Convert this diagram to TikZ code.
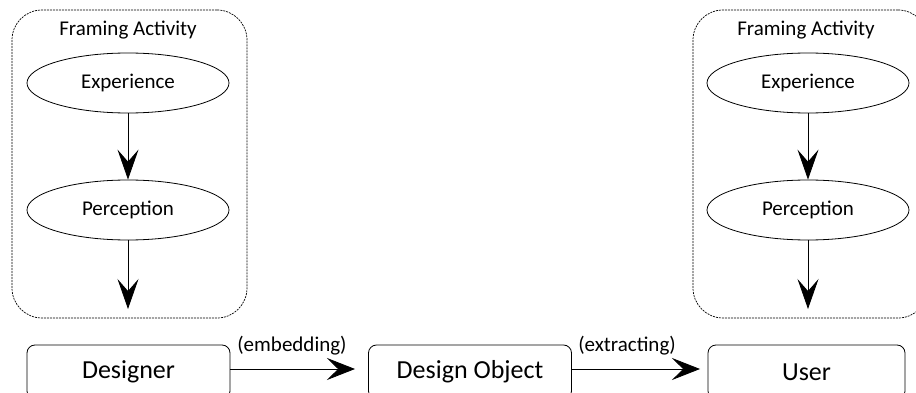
\documentclass[tikz,border=0pt]{standalone}
\usepackage{fontspec}
\setmainfont{Carlito}
\usetikzlibrary{shapes.geometric,arrows.meta}
\begin{document}
\begin{tikzpicture}[x=1pt,y=-1pt,
  frame/.style={draw,dash pattern=on 2pt off 1pt,line width=0.7pt,rounded corners=30pt,inner sep=0pt},
  oval/.style={draw,ellipse,line width=0.8pt,minimum width=202pt,minimum height=60pt,inner sep=0pt,font=\fontsize{21}{24}\selectfont},
  entity/.style={draw,rounded corners=8pt,line width=0.8pt,minimum width=203pt,minimum height=54pt,inner sep=0pt,font=\fontsize{26}{30}\selectfont},
  title/.style={font=\fontsize{21}{24}\selectfont,inner sep=0pt},
  lbl/.style={font=\fontsize{21}{24}\selectfont,inner sep=0pt},
  vflow/.style={-{Stealth[length=30pt,width=21pt,inset=12pt]},line width=0.8pt},
  hflow/.style={-{Stealth[length=28pt,width=22pt,inset=11pt]},line width=0.8pt}]
\useasboundingbox (0,0) rectangle (916,393);
% left framing activity
\node[frame,minimum width=235pt,minimum height=308pt] (fl) at (129.5,164) {};
\node[title] (tl) at (128,30) {Framing Activity};
\node[oval] (el) at (128,83) {Experience};
\node[oval] (pl) at (128,210) {Perception};
\coordinate (bl) at (128,309);
\draw[vflow] (el) -- (pl);
\draw[vflow] (pl) -- (bl);
% right framing activity
\node[frame,minimum width=235pt,minimum height=308pt] (fr) at (810.5,164) {};
\node[title] (tr) at (806,30) {Framing Activity};
\node[oval] (er) at (808,83) {Experience};
\node[oval] (pr) at (808,210) {Perception};
\coordinate (br) at (808,309);
\draw[vflow] (er) -- (pr);
\draw[vflow] (pr) -- (br);
% bottom row
\node[entity] (d) at (128.5,372) {Designer};
\node[entity] (o) at (470,372) {Design Object};
\node[entity,minimum width=197pt] (u) at (806.5,372) {User};
\draw[hflow] (d.east |- 0,369) -- (355,369) coordinate (dto);
\draw[hflow] (o.east |- 0,369) -- (700,369) coordinate (otu);
\node[lbl] (emb) at (292,346) {(embedding)};
\node[lbl] (ext) at (627,346) {(extracting)};
\end{tikzpicture}
\end{document}
